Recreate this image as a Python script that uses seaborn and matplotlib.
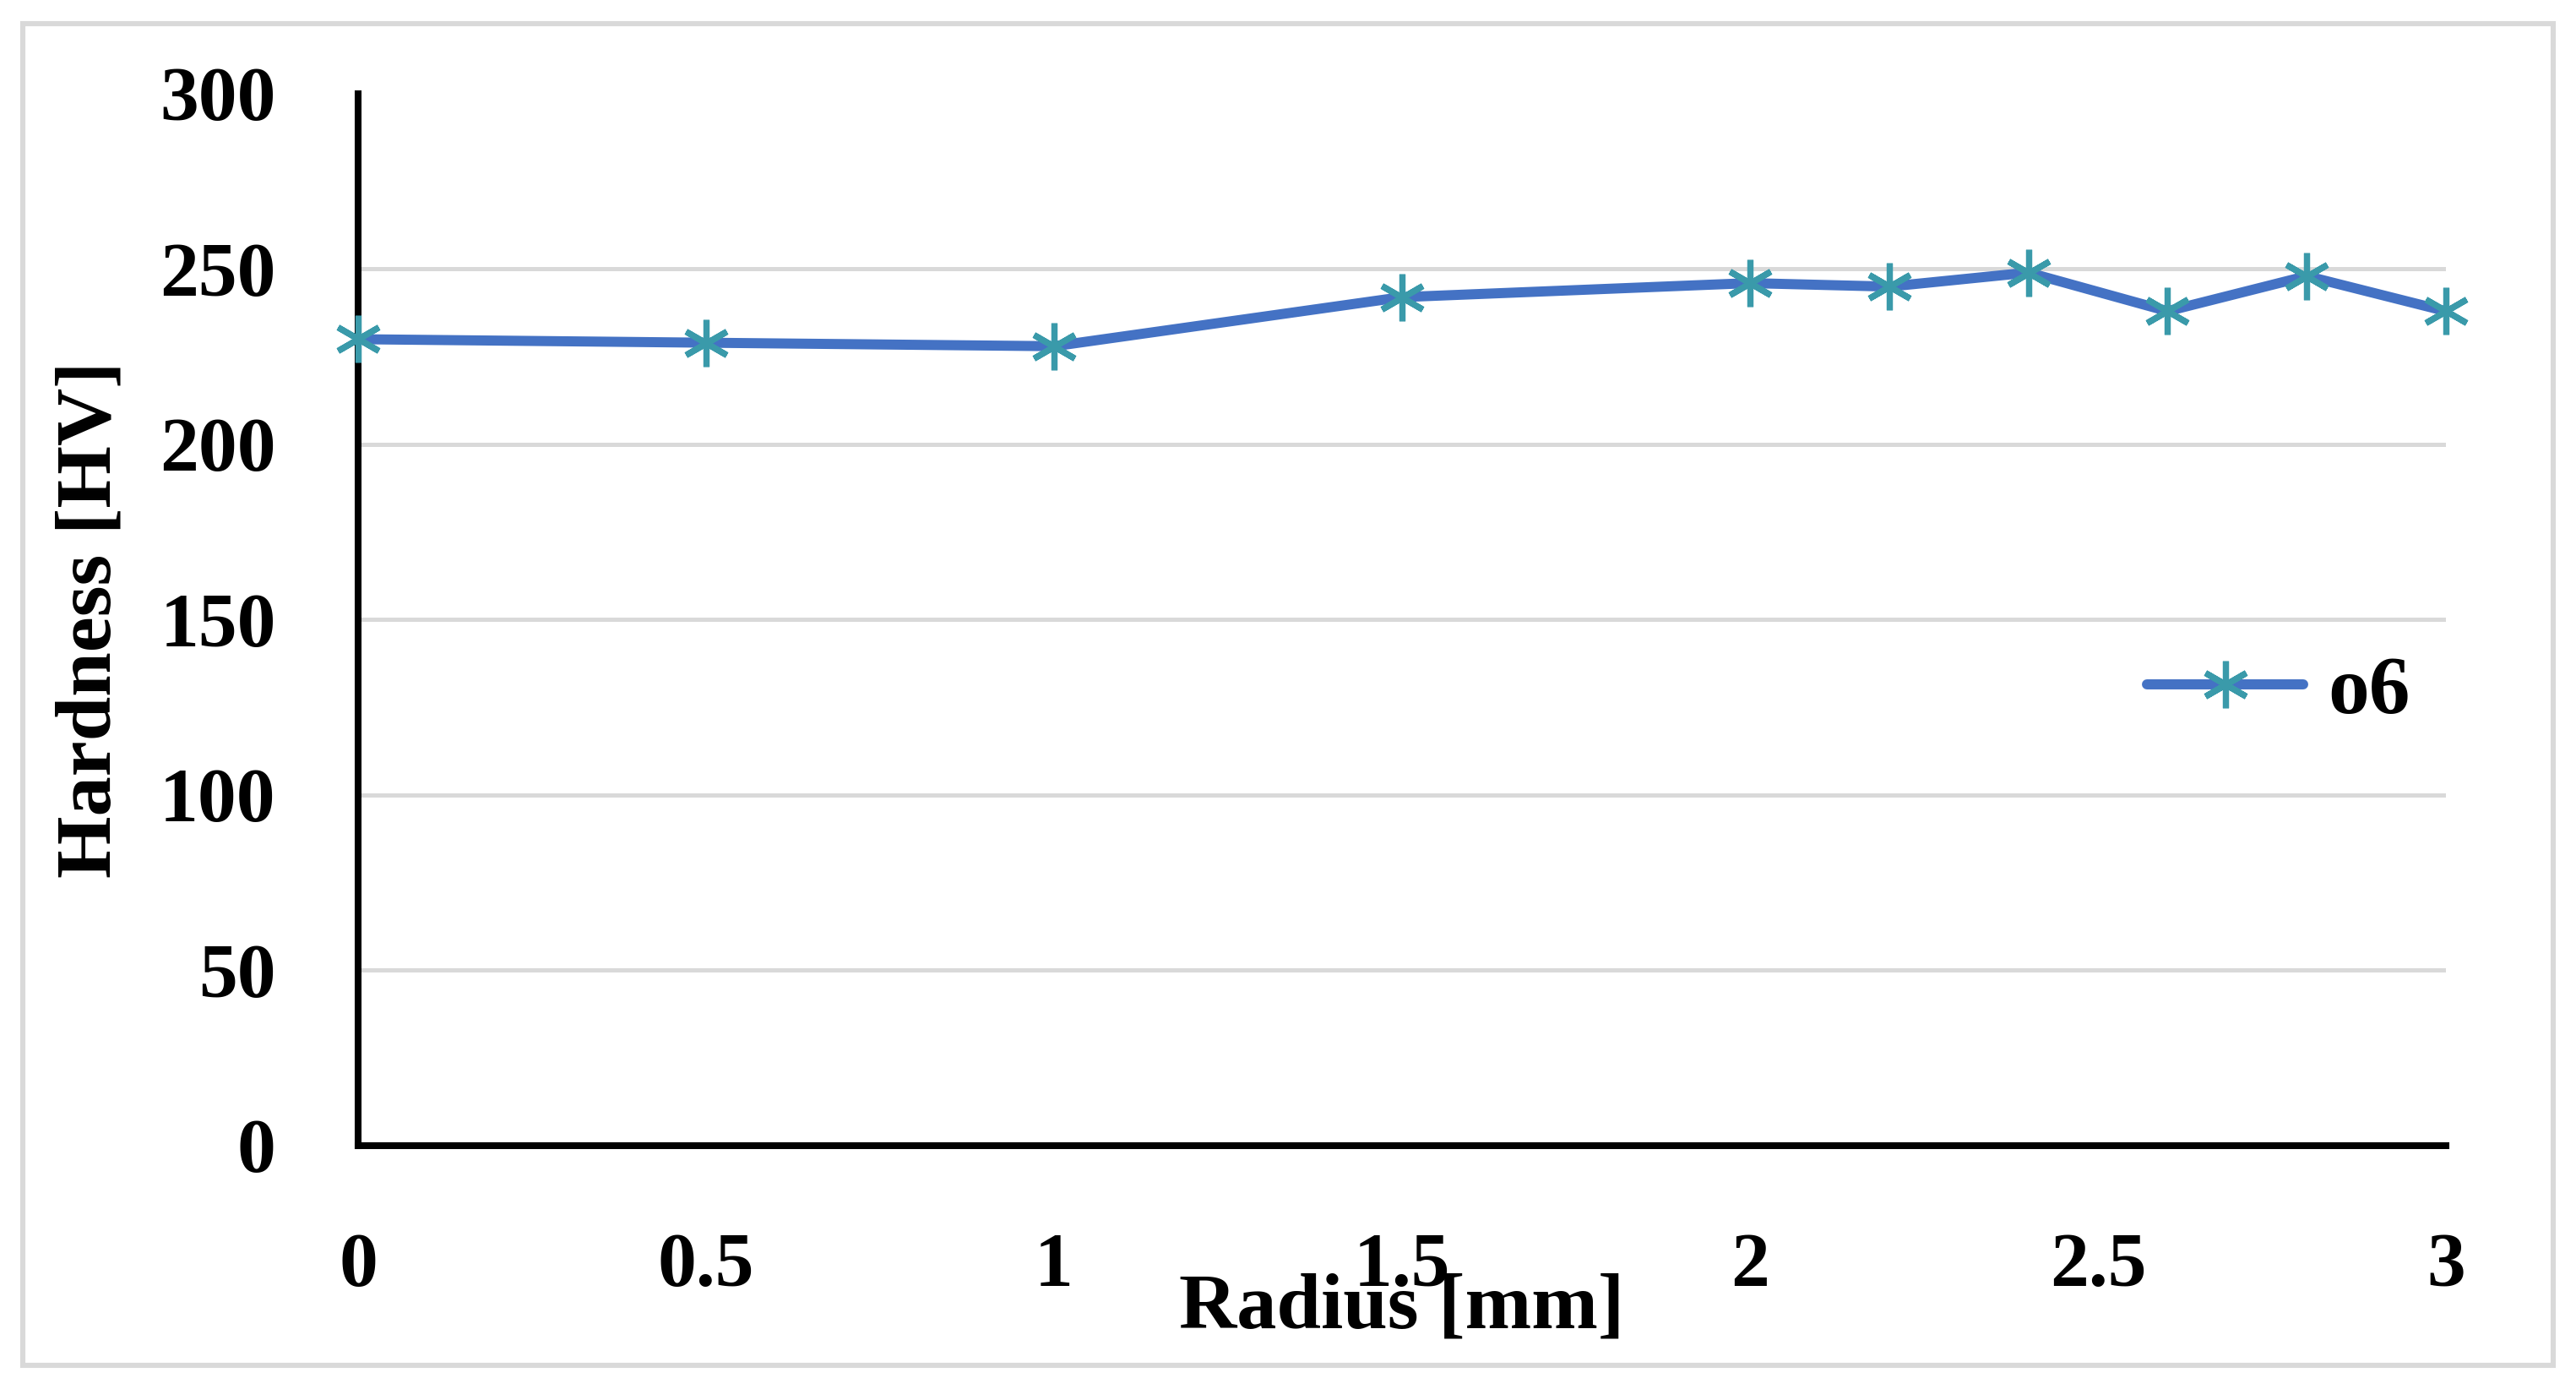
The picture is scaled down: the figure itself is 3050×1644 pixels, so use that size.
import matplotlib
matplotlib.use("Agg")
import matplotlib.pyplot as plt
import seaborn as sns
from matplotlib.patches import Rectangle

# Data
radius = [0, 0.5, 1, 1.5, 2, 2.2, 2.4, 2.6, 2.8, 3]
hardness = [230, 229, 228, 242, 246, 245, 249, 238, 248, 238]
x_ticks = [0, 0.5, 1, 1.5, 2, 2.5, 3]
x_tick_labels = ["0", "0.5", "1", "1.5", "2", "2.5", "3"]
y_ticks = [0, 50, 100, 150, 200, 250, 300]
series_name = "o6"

sns.set_style("white")
plt.rcParams['font.family'] = ['Liberation Serif', 'DejaVu Serif']
plt.rcParams['font.weight'] = 'bold'
plt.rcParams['text.color'] = 'black'
plt.rcParams['axes.labelcolor'] = 'black'
plt.rcParams['xtick.color'] = 'black'
plt.rcParams['ytick.color'] = 'black'

fig = plt.figure(figsize=(15.25, 8.22), dpi=200)
ax = fig.add_axes([0.139, 0.1752, 0.8105, 0.7573])

# Outer light grey frame around the whole chart
fig.patches.append(Rectangle((0.009, 0.017), 0.982, 0.966, transform=fig.transFigure,
                             fill=False, edgecolor='#d9d9d9', linewidth=2.2))

sns.lineplot(x=radius, y=hardness, ax=ax, color='#4472C4', linewidth=4.3,
             marker=(6, 2, 0), markersize=20, markeredgecolor='#3A9AAA',
             markeredgewidth=2.6, label=series_name, clip_on=False, zorder=5)

ax.set_xlim(0, 3)
ax.set_ylim(0, 300)
ax.set_xticks(x_ticks)
ax.set_xticklabels(x_tick_labels)
ax.set_yticks(y_ticks)

ax.grid(axis='y', color='#d9d9d9', linewidth=1.8)
ax.get_ygridlines()[-1].set_visible(False)
ax.set_axisbelow(True)

for side in ['top', 'right']:
    ax.spines[side].set_visible(False)
for side in ['left', 'bottom']:
    ax.spines[side].set_color('black')
    ax.spines[side].set_linewidth(2.9)

ax.tick_params(axis='both', length=0, labelsize=33, labelcolor='black')
ax.tick_params(axis='x', pad=37)
ax.tick_params(axis='y', pad=35)
for lbl in ax.get_xticklabels() + ax.get_yticklabels():
    lbl.set_fontweight('bold')

ax.set_xlabel('Radius [mm]', fontsize=34, fontweight='bold', va='center', color='black')
ax.xaxis.set_label_coords(0.5, -0.155)
ax.set_ylabel('Hardness [HV]', fontsize=34, fontweight='bold', va='center', color='black')
ax.yaxis.set_label_coords(-0.128, 0.5)

leg = ax.legend(loc='center left', bbox_to_anchor=(0.857, 0.43), frameon=False,
                borderaxespad=0, borderpad=0, handlelength=1.9, handletextpad=0.3,
                prop={'size': 35, 'weight': 'bold'})
for t in leg.get_texts():
    t.set_color('black')

fig.savefig('out.png', dpi=200, facecolor='white')
